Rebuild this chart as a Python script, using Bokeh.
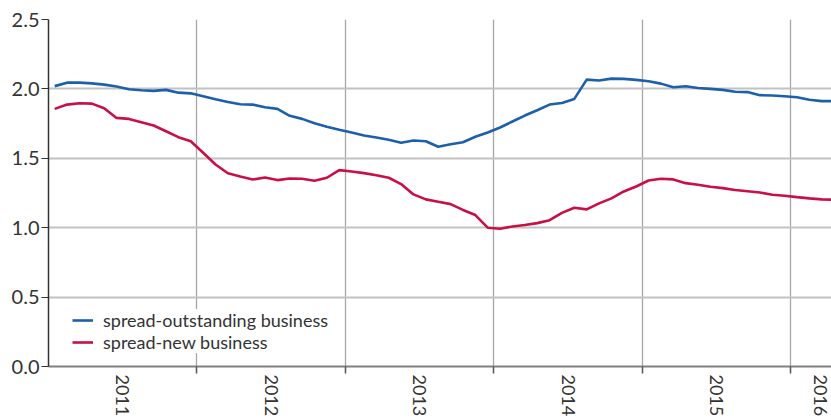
from bokeh.plotting import figure
from bokeh.models import Range1d, FixedTicker, NumeralTickFormatter, Legend, LegendItem
from bokeh.embed import file_html
from bokeh.resources import INLINE

# Monthly data, Jan 2011 .. Apr 2016
start_year = 2011
outstanding = [2.020, 2.045, 2.045, 2.040, 2.031, 2.017, 1.997, 1.990, 1.986, 1.993, 1.973, 1.968,
               1.947, 1.925, 1.906, 1.889, 1.887, 1.868, 1.856, 1.806, 1.784, 1.753, 1.727, 1.705,
               1.686, 1.664, 1.650, 1.633, 1.612, 1.628, 1.623, 1.583, 1.601, 1.616, 1.655, 1.686,
               1.722, 1.765, 1.808, 1.846, 1.887, 1.899, 1.928, 2.067, 2.060, 2.074, 2.072, 2.065,
               2.055, 2.038, 2.012, 2.019, 2.007, 2.000, 1.993, 1.980, 1.977, 1.955, 1.952, 1.947,
               1.940, 1.922, 1.912, 1.912]
new_business = [1.856, 1.887, 1.897, 1.894, 1.860, 1.791, 1.784, 1.760, 1.736, 1.695, 1.652, 1.623,
                1.540, 1.455, 1.392, 1.369, 1.347, 1.362, 1.343, 1.355, 1.353, 1.338, 1.360, 1.415,
                1.405, 1.393, 1.378, 1.360, 1.314, 1.240, 1.204, 1.187, 1.170, 1.128, 1.091, 1.000,
                0.993, 1.009, 1.019, 1.033, 1.054, 1.107, 1.144, 1.132, 1.175, 1.211, 1.261, 1.297,
                1.340, 1.353, 1.348, 1.321, 1.309, 1.295, 1.285, 1.272, 1.263, 1.254, 1.237, 1.230,
                1.220, 1.211, 1.204, 1.202]
# year names sit in the middle of each year (2016 only partly shown)
year_label_pos = [2011.5, 2012.5, 2013.5, 2014.5, 2015.5, 2016.2]
year_boundaries = [2012, 2013, 2014, 2015, 2016]
y_ticks = [0.0, 0.5, 1.0, 1.5, 2.0, 2.5]
series_names = ["spread-outstanding business", "spread-new business"]
series_colors = ["#1c5fab", "#c80f46"]

# month midpoints in fractional years
x = [start_year + k / 12 + 1 / 24 for k in range(len(outstanding))]

FONT = "Lato"
TXT = "#333333"

p = figure(width=831, height=419, output_backend="svg", toolbar_location=None,
           x_range=Range1d(2011, 2016.274), y_range=Range1d(0, 2.5),
           min_border_left=48, min_border_right=0, min_border_top=19, min_border_bottom=0)
p.outline_line_color = None
p.background_fill_color = "white"

r1 = p.line(x, outstanding, line_color=series_colors[0], line_width=2.6)
r2 = p.line(x, new_business, line_color=series_colors[1], line_width=2.6)

# x axis: labelled (tick-less) major ticks mid-year, minor ticks at year boundaries
p.xaxis.ticker = FixedTicker(ticks=year_label_pos, minor_ticks=year_boundaries)
p.xaxis.formatter = NumeralTickFormatter(format="0", rounding="floor")
p.xaxis.major_label_orientation = "vertical"
p.xaxis.major_tick_out = 0
p.xaxis.major_tick_in = 0
p.xaxis.minor_tick_out = 7
p.xaxis.minor_tick_in = 0
p.xaxis.minor_tick_line_color = "#555555"
p.xaxis.minor_tick_line_width = 1.5
p.xaxis.axis_line_color = "#808080"
p.xaxis.axis_line_width = 2
p.xaxis.major_label_standoff = 1
p.xaxis.major_label_text_font = FONT
p.xaxis.major_label_text_font_size = "18px"
p.xaxis.major_label_text_color = TXT

p.yaxis.ticker = FixedTicker(ticks=y_ticks)
p.yaxis.formatter = NumeralTickFormatter(format="0.0")
p.yaxis.major_tick_out = 7
p.yaxis.major_tick_in = 0
p.yaxis.major_tick_line_color = "#333333"
p.yaxis.minor_tick_line_color = None
p.yaxis.axis_line_color = "#333333"
p.yaxis.axis_line_width = 1.5
p.yaxis.major_label_standoff = 2
p.yaxis.major_label_text_font = FONT
p.yaxis.major_label_text_font_size = "20px"
p.yaxis.major_label_text_color = TXT

p.xgrid.ticker = FixedTicker(ticks=year_boundaries)
p.xgrid.grid_line_color = "#a6a6a6"
p.xgrid.grid_line_width = 1.3
p.ygrid.grid_line_color = "#c2c2c2"
p.ygrid.grid_line_width = 2

legend = Legend(items=[LegendItem(label=series_names[0], renderers=[r1]),
                       LegendItem(label=series_names[1], renderers=[r2])],
                location=(24, 13), orientation="vertical")
legend.background_fill_color = "white"
legend.background_fill_alpha = 1.0
legend.border_line_color = None
legend.padding = 6
legend.margin = 0
legend.spacing = 0
legend.glyph_width = 21
legend.glyph_height = 20
legend.label_height = 20
legend.label_standoff = 10
legend.label_text_font = FONT
legend.label_text_font_size = "18px"
legend.label_text_color = TXT
p.add_layout(legend, "center")

open("out.html", "w").write(file_html(p, INLINE))
